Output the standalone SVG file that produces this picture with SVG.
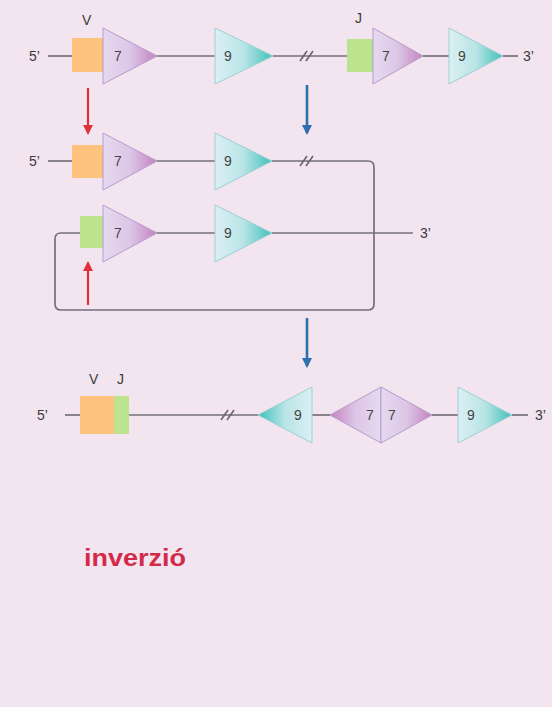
<svg xmlns="http://www.w3.org/2000/svg" width="552" height="707" viewBox="0 0 552 707">
<defs>
<linearGradient id="pr" x1="0" y1="0" x2="1" y2="0"><stop offset="0" stop-color="#e6d9f0"/><stop offset="0.5" stop-color="#dcc6e6"/><stop offset="1" stop-color="#c682c0"/></linearGradient>
<linearGradient id="pl" x1="1" y1="0" x2="0" y2="0"><stop offset="0" stop-color="#e6d9f0"/><stop offset="0.5" stop-color="#dcc6e6"/><stop offset="1" stop-color="#c682c0"/></linearGradient>
<linearGradient id="tr" x1="0" y1="0" x2="1" y2="0"><stop offset="0" stop-color="#dcf0f3"/><stop offset="0.5" stop-color="#b8e4e6"/><stop offset="1" stop-color="#3fc1b8"/></linearGradient>
<linearGradient id="tl" x1="1" y1="0" x2="0" y2="0"><stop offset="0" stop-color="#dcf0f3"/><stop offset="0.5" stop-color="#b8e4e6"/><stop offset="1" stop-color="#3fc1b8"/></linearGradient>
<marker id="ar" viewBox="0 0 10 10" refX="8" refY="5" markerWidth="4.5" markerHeight="4.5" orient="auto"><path d="M0,0 L10,5 L0,10 z" fill="#e0303a"/></marker>
<marker id="ab" viewBox="0 0 10 10" refX="8" refY="5" markerWidth="4" markerHeight="4" orient="auto"><path d="M0,0 L10,5 L0,10 z" fill="#2f6fae"/></marker>
<style>
.ln{stroke:#76707a;stroke-width:1.7;fill:none}
.t{font-family:"Liberation Sans",Arial,sans-serif;font-size:14px;fill:#3a3a3a}
.n{font-family:"Liberation Sans",Arial,sans-serif;font-size:14px;fill:#444;text-anchor:middle}
.pu{stroke:#b59ccb;stroke-width:1}
.te{stroke:#9bd0d4;stroke-width:1}
.or{fill:#fdc27d}
.gr{fill:#bce48f}
.rd{stroke:#e0303a;stroke-width:2.2;fill:none}
.bl{stroke:#2f6fae;stroke-width:2.6;fill:none}
</style>
</defs>
<rect width="552" height="707" fill="#f2e5f0"/>

<g id="connectors">
<!-- row 1 -->
<line class="ln" x1="48" y1="56" x2="72" y2="56"/>
<line class="ln" x1="157" y1="56" x2="215" y2="56"/>
<line class="ln" x1="273" y1="56" x2="347" y2="56"/>
<line class="ln" x1="423" y1="56" x2="449" y2="56"/>
<line class="ln" x1="503" y1="56" x2="518" y2="56"/>
<!-- row 2 -->
<line class="ln" x1="48" y1="161" x2="72" y2="161"/>
<line class="ln" x1="157" y1="161" x2="215" y2="161"/>
<path class="ln" d="M272,161 H368 Q374,161 374,167 V304 Q374,310 368,310 H61 Q55,310 55,304 V239 Q55,233 61,233 H80"/>
<line class="ln" x1="157" y1="233" x2="215" y2="233"/>
<line class="ln" x1="272" y1="233" x2="413" y2="233"/>
<!-- row 3 -->
<line class="ln" x1="65" y1="415" x2="80" y2="415"/>
<line class="ln" x1="129" y1="415" x2="258" y2="415"/>
<line class="ln" x1="312" y1="415" x2="330" y2="415"/>
<line class="ln" x1="432" y1="415" x2="458" y2="415"/>
<line class="ln" x1="512" y1="415" x2="528" y2="415"/>
<!-- break marks -->
<g fill="none" stroke="#6a646e" stroke-width="1.6">
<path d="M300,61 L307,51 M306,61 L313,51"/>
<path d="M300,166 L307,156 M306,166 L313,156"/>
<path d="M221,420 L228,410 M227,420 L234,410"/>
</g>
<!-- arrows -->
<line class="rd" x1="88" y1="88" x2="88" y2="133" marker-end="url(#ar)"/>
<line class="bl" x1="307" y1="85" x2="307" y2="133" marker-end="url(#ab)"/>
<line class="rd" x1="88" y1="305" x2="88" y2="263" marker-end="url(#ar)"/>
<line class="bl" x1="307" y1="318" x2="307" y2="366" marker-end="url(#ab)"/>
</g>

<!-- Row 1 -->
<g id="r1-ends"><text class="t" x="29" y="61">5’</text><text class="t" x="523" y="61">3’</text></g>
<g id="r1-V"><text class="t" x="82" y="25">V</text><rect class="or" x="72" y="38" width="32" height="34"/></g>
<g id="r1-7a"><polygon class="pu" points="103,28 157,56 103,84" fill="url(#pr)"/><text class="n" x="118" y="61">7</text></g>
<g id="r1-9a"><polygon class="te" points="215,28 273,56 215,84" fill="url(#tr)"/><text class="n" x="228" y="61">9</text></g>
<g id="r1-J"><text class="t" x="355" y="23">J</text><rect class="gr" x="347" y="39" width="27" height="33"/></g>
<g id="r1-7b"><polygon class="pu" points="373,28 423,56 373,84" fill="url(#pr)"/><text class="n" x="386" y="61">7</text></g>
<g id="r1-9b"><polygon class="te" points="449,28 503,56 449,84" fill="url(#tr)"/><text class="n" x="462" y="61">9</text></g>

<!-- Row 2 -->
<g id="r2-end"><text class="t" x="29" y="166">5’</text><text class="t" x="420" y="238">3’</text></g>
<g id="r2-V"><rect class="or" x="72" y="145" width="32" height="33"/></g>
<g id="r2-7a"><polygon class="pu" points="103,133 157,161 103,190" fill="url(#pr)"/><text class="n" x="118" y="166">7</text></g>
<g id="r2-9a"><polygon class="te" points="215,133 272,161 215,190" fill="url(#tr)"/><text class="n" x="228" y="166">9</text></g>
<g id="r2-J"><rect class="gr" x="80" y="216" width="24" height="32"/></g>
<g id="r2-7b"><polygon class="pu" points="103,205 157,233 103,262" fill="url(#pr)"/><text class="n" x="118" y="238">7</text></g>
<g id="r2-9b"><polygon class="te" points="215,205 272,233 215,262" fill="url(#tr)"/><text class="n" x="228" y="238">9</text></g>

<!-- Row 3 -->
<g id="r3-ends"><text class="t" x="37" y="420">5’</text><text class="t" x="535" y="420">3’</text></g>
<g id="r3-VJ"><text class="t" x="89" y="384">V</text><text class="t" x="117" y="384">J</text><rect class="or" x="80" y="396" width="34" height="38"/><rect class="gr" x="114" y="396" width="15" height="38"/></g>
<g id="r3-9a"><polygon class="te" points="312,387 258,415 312,443" fill="url(#tl)"/><text class="n" x="298" y="420">9</text></g>
<g id="r3-77"><polygon class="pu" points="381,387 330,415 381,443" fill="url(#pl)"/><polygon class="pu" points="381,387 432,415 381,443" fill="url(#pr)"/><text class="n" x="370" y="420">7</text><text class="n" x="392" y="420">7</text></g>
<g id="r3-9b"><polygon class="te" points="458,387 512,415 458,443" fill="url(#tr)"/><text class="n" x="471" y="420">9</text></g>

<g id="caption"><text x="84" y="566" font-family="'Liberation Sans',Arial,sans-serif" font-size="24" font-weight="bold" fill="#d42a4a" textLength="102" lengthAdjust="spacingAndGlyphs">inverzió</text></g>
</svg>
